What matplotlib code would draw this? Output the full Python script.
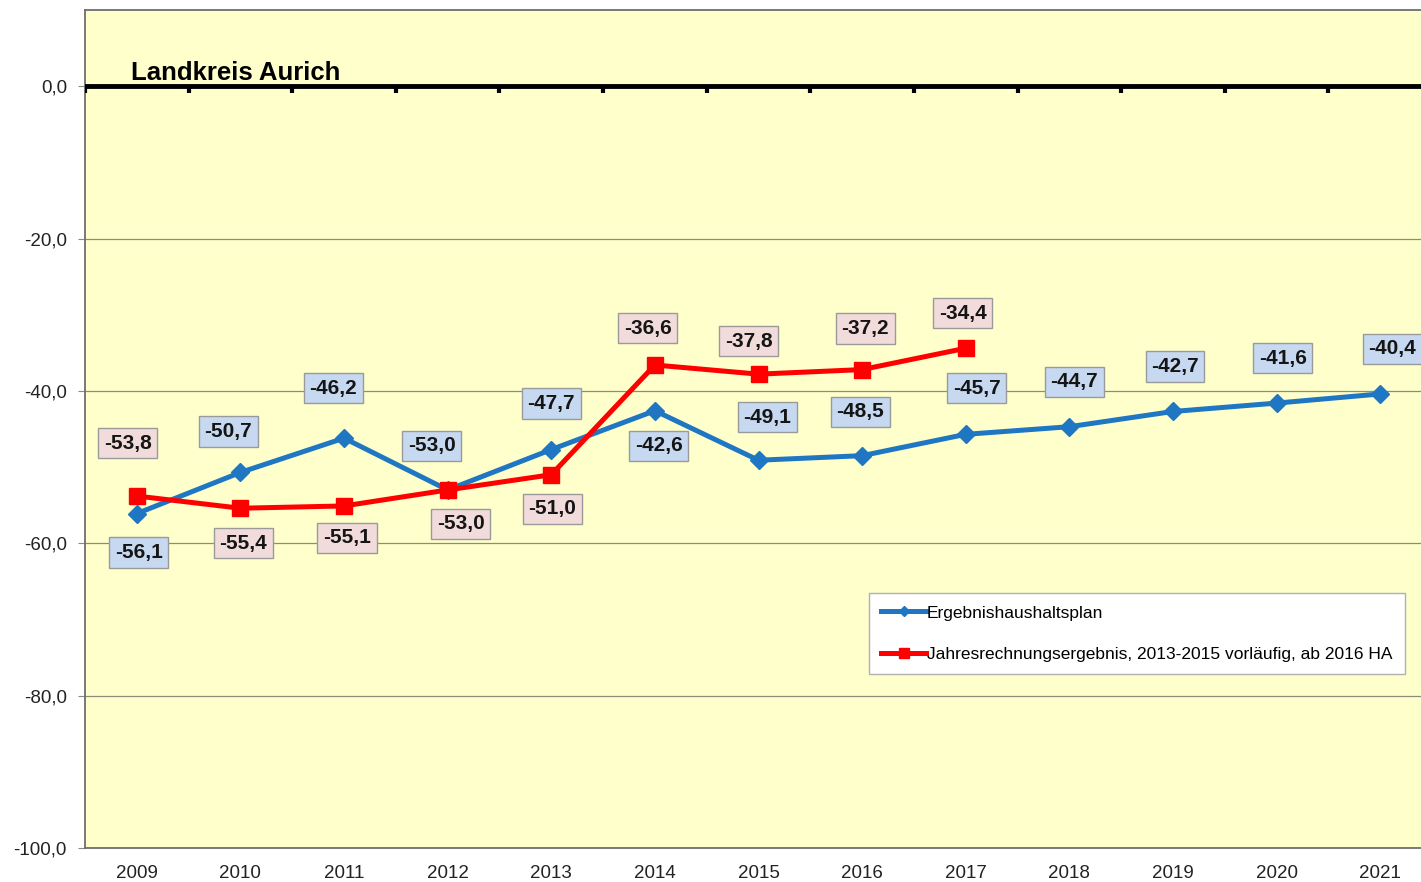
import matplotlib.pyplot as plt
import numpy as np

plt.rcParams['font.family'] = ['Liberation Sans', 'DejaVu Sans']

years = ['2009', '2010', '2011', '2012', '2013', '2014', '2015',
         '2016', '2017', '2018', '2019', '2020', '2021']
plan = [-56.1, -50.7, -46.2, -53.0, -47.7, -42.6, -49.1,
        -48.5, -45.7, -44.7, -42.7, -41.6, -40.4]
result = [-53.8, -55.4, -55.1, -53.0, -51.0, -36.6, -37.8, -37.2, -34.4]

plan_name = 'Ergebnishaushaltsplan'
result_name = 'Jahresrechnungsergebnis, 2013-2015 vorläufig, ab 2016 HA'
title = 'Landkreis Aurich'

# label offsets in pixels (dx, dy), positive dy = up
plan_off = [(2, -39), (-12, 41), (-11, 50), (-16, 44), (0, 46), (4, -35), (9, 43),
            (-2, 44), (11, 46), (5, 45), (2, 45), (6, 45), (12, 45)]
result_off = [(-9, 53), (3, -35), (3, -32), (13, -34), (1, -34),
              (-7, 37), (-10, 33), (3, 41), (-3, 35)]

blue = '#1f77c4'
red = '#ff0000'

fig = plt.figure(figsize=(14.21, 8.82), dpi=100)
ax = fig.add_axes([85 / 1421, 1 - 848 / 882, 1347 / 1421, 838 / 882])
ax.set_facecolor('#ffffcc')

x_plan = np.arange(len(plan))
x_res = np.arange(len(result))

ax.plot(x_plan, plan, color=blue, lw=3.6, marker='D', ms=9, label=plan_name, zorder=4)
ax.plot(x_res, result, color=red, lw=3.6, marker='s', ms=12, label=result_name, zorder=5)

def fmt(v):
    return f'{v:.1f}'.replace('.', ',')

for xi, v, (dx, dy) in zip(x_plan, plan, plan_off):
    ax.annotate(fmt(v), (xi, v), xytext=(dx * 0.72, dy * 0.72), textcoords='offset points',
                ha='center', va='center', fontsize=15, fontweight='bold', color='#151515',
                bbox=dict(boxstyle='square,pad=0.27', fc='#c6d9f1', ec='#9a9a9a', lw=1), zorder=6)
for xi, v, (dx, dy) in zip(x_res, result, result_off):
    ax.annotate(fmt(v), (xi, v), xytext=(dx * 0.72, dy * 0.72), textcoords='offset points',
                ha='center', va='center', fontsize=15, fontweight='bold', color='#151515',
                bbox=dict(boxstyle='square,pad=0.27', fc='#f2dcdb', ec='#9a9a9a', lw=1), zorder=6)

ax.set_xlim(-0.5, len(years) - 0.5)
ax.set_ylim(-100, 10)

yt = [0, -20, -40, -60, -80, -100]
ax.set_yticks(yt)
ax.set_yticklabels([fmt(v) for v in yt], fontsize=13.5, color='#222222')
ax.tick_params(axis='y', length=5, color='#888888', pad=8)
ax.set_xticks(x_plan)
ax.set_xticklabels(years, fontsize=13.5, color='#222222')
ax.tick_params(axis='x', length=0, pad=12)

for g in [-20, -40, -60, -80]:
    ax.axhline(g, color='#8c8c7a', lw=0.9, zorder=1)

# zero line acting as category axis
ax.axhline(0, color='black', lw=3.5, zorder=3)
ax.vlines(np.arange(-0.5, len(years)), -0.9, 0, color='black', lw=3, zorder=3)

ax.text(-0.06, 0.8, title, fontsize=18.5, fontweight='bold', ha='left', va='baseline')

for s in ['left', 'bottom', 'top']:
    ax.spines[s].set_color('#6e6e6e')
    ax.spines[s].set_linewidth(1.3)
ax.spines['right'].set_visible(False)

leg = ax.legend(loc='upper left', bbox_to_anchor=(0.582, 0.304), fontsize=12.5,
                frameon=True, fancybox=False, edgecolor='#b0b0b0', framealpha=1,
                handlelength=2.6, handletextpad=0.05, labelspacing=1.5,
                borderpad=0.7, borderaxespad=0, markerscale=0.6)
leg.get_frame().set_linewidth(1)

fig.savefig('out.png', dpi=100, facecolor='white')
